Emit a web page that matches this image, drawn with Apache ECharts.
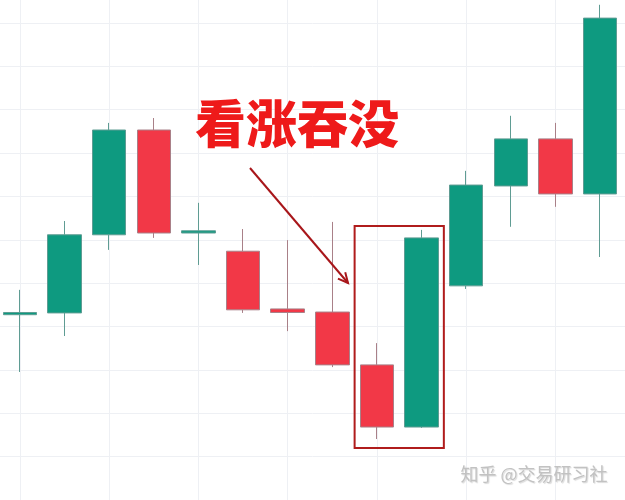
<!DOCTYPE html>
<html>
<head>
<meta charset="utf-8">
<script src="https://cdn.jsdelivr.net/npm/echarts@6/dist/echarts.min.js"></script>
<style>html,body{margin:0;padding:0;background:#fff;}#c{width:625px;height:500px;}</style>
</head>
<body>
<div id="c"></div>
<script>
// ---- data ----
const categories = ['1','2','3','4','5','6','7','8','9','10','11','12','13','14'];
// [open, close, low, high]
const opens  = [44.3, 44.7, 62.3, 85.9, 62.7, 58.6, 45.6, 44.9, 33.0, 19.0, 50.8, 73.3, 83.9, 71.5];
const closes = [44.8, 62.3, 85.9, 62.7, 63.2, 45.4, 44.8, 33.0, 19.0, 61.6, 73.5, 83.9, 71.5, 111.1];
const lows   = [31.4, 39.5, 58.9, 61.6, 55.5, 44.7, 40.6, 32.5, 16.3, 18.8, 50.1, 64.1, 68.6, 57.3];
const highs  = [49.9, 65.4, 87.5, 88.6, 69.5, 63.6, 61.1, 65.2, 37.9, 63.4, 76.7, 89.1, 87.5, 114.1];
const yTicks = [0, 110, 10]; // min, max, interval of the grid scale
const titleText = '看涨吞没';
const watermark = '知乎 @交易研习社';
const boxCats = [8, 9];          // candles inside the highlight box
const boxValues = [14.3, 64.3];  // value range of the highlight box

const candleData = opens.map((o, i) => [o, closes[i], lows[i], highs[i]]);

// layout
const H = 500, gTop = 23, gBottom = -11.4;
const pxPerUnit = (H - gTop - gBottom) / (yTicks[1] - yTicks[0]);
const y1Min = yTicks[0] + (-gBottom) / pxPerUnit;
const y1Max = yTicks[1] + gTop / pxPerUnit;

const chart = echarts.init(document.getElementById('c'), null, {renderer: 'canvas'});
const gridColor = '#eef0f4';
chart.setOption({
  animation: false,
  backgroundColor: '#ffffff',
  grid: [
    {left: 0, right: 0, top: gTop, bottom: gBottom},
    {left: 20, right: 25, top: 0, bottom: 0}
  ],
  xAxis: [
    {gridIndex: 0, type: 'value', min: 0, max: 1, show: false, splitLine: {show: false}},
    {gridIndex: 1, type: 'category', data: categories, boundaryGap: false,
     axisLine: {show: false}, axisTick: {show: false}, axisLabel: {show: false},
     splitLine: {show: true, interval: 1, lineStyle: {color: gridColor, width: 1}}}
  ],
  yAxis: [
    {gridIndex: 0, type: 'value', min: yTicks[0], max: yTicks[1], interval: yTicks[2],
     axisLine: {show: false}, axisTick: {show: false}, axisLabel: {show: false},
     splitLine: {show: true, lineStyle: {color: gridColor, width: 1}}},
    {gridIndex: 1, type: 'value', min: y1Min, max: y1Max, show: false, splitLine: {show: false}}
  ],
  series: [{
    type: 'candlestick',
    xAxisIndex: 1, yAxisIndex: 1,
    data: candleData,
    barWidth: 34,
    clip: false,
    itemStyle: {
      color: '#0e9a80',
      color0: '#f23847',
      borderColor: '#5f9c93',
      borderColor0: '#a98088',
      borderWidth: 1
    }
  }]
});

// annotations
const band = chart.convertToPixel({xAxisIndex: 1}, 1) - chart.convertToPixel({xAxisIndex: 1}, 0);
const bx0 = chart.convertToPixel({xAxisIndex: 1}, boxCats[0]) - band / 2;
const bx1 = chart.convertToPixel({xAxisIndex: 1}, boxCats[1]) + band / 2;
const by0 = chart.convertToPixel({yAxisIndex: 1}, boxValues[1]);
const by1 = chart.convertToPixel({yAxisIndex: 1}, boxValues[0]);

const ax0 = 250, ay0 = 168, ax1 = 348, ay1 = 283;
const ang = Math.atan2(ay1 - ay0, ax1 - ax0);
const hl = 11, ha = 0.45;
const arrowHead = [
  [ax1 - hl * Math.cos(ang - ha), ay1 - hl * Math.sin(ang - ha)],
  [ax1, ay1],
  [ax1 - hl * Math.cos(ang + ha), ay1 - hl * Math.sin(ang + ha)]
];

chart.setOption({
  graphic: [
    {type: 'rect', shape: {x: bx0, y: by0, width: bx1 - bx0, height: by1 - by0},
     style: {fill: 'none', stroke: '#b01c1c', lineWidth: 2}, z: 10},
    {type: 'line', shape: {x1: ax0, y1: ay0, x2: ax1, y2: ay1},
     style: {stroke: '#a8161a', lineWidth: 2}, z: 10},
    {type: 'polyline', shape: {points: arrowHead},
     style: {stroke: '#a8161a', lineWidth: 2, fill: 'none'}, z: 10},
    {type: 'text', x: 297, y: 124, z: 10,
     style: {text: titleText, fill: '#ee1a1a', font: '900 51px "Noto Sans CJK SC"',
             textAlign: 'center', textVerticalAlign: 'middle'}},
    {type: 'text', x: 534, y: 474, z: 10,
     style: {text: watermark, fill: '#c2c2c2', font: '18px "Noto Sans CJK SC"',
             textAlign: 'center', textVerticalAlign: 'middle',
             textShadowColor: 'rgba(0,0,0,0.15)', textShadowBlur: 1, textShadowOffsetX: 1, textShadowOffsetY: 1}}
  ]
});
</script>
</body>
</html>
